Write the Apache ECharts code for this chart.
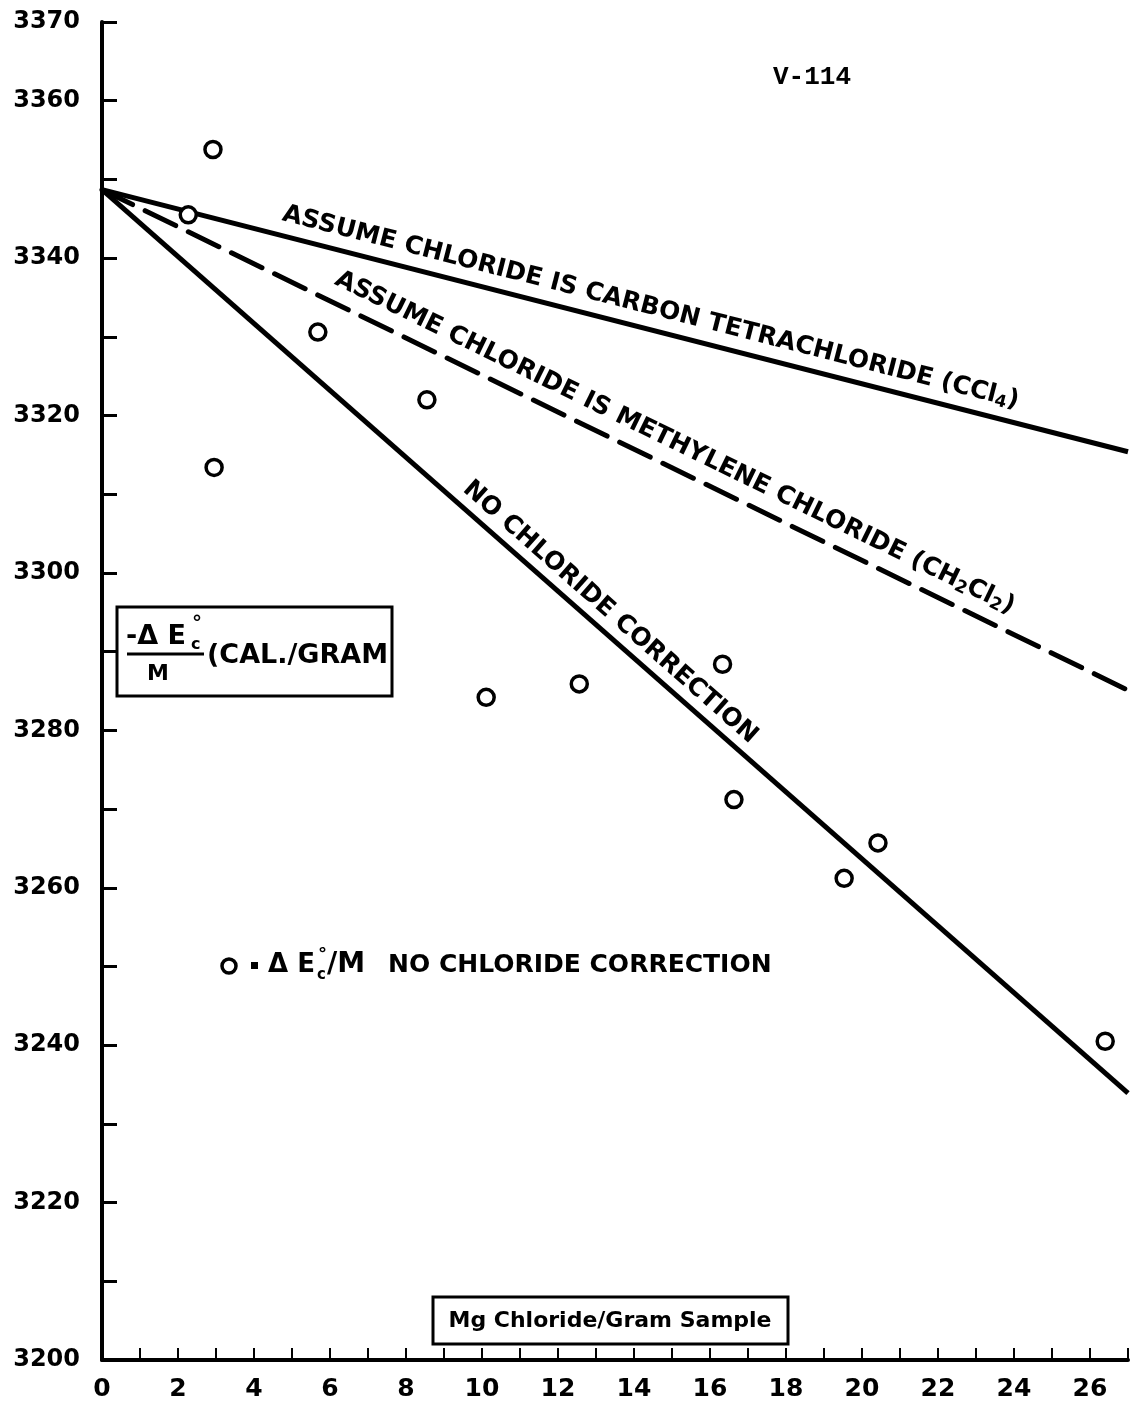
<!DOCTYPE html>
<html>
<head>
<meta charset="utf-8">
<script src="https://cdn.jsdelivr.net/npm/echarts@6/dist/echarts.min.js"></script>
<style>
html, body { margin: 0; padding: 0; background: #fff; }
#main { width: 1131px; height: 1404px; }
</style>
</head>
<body>
<div id="main"></div>
<script>
// measured points (circles): Mg chloride per gram sample vs -dEc/M
var pointX = [2.92, 2.27, 5.68, 8.55, 2.95, 10.11, 12.56, 16.33, 16.63, 20.42, 19.53, 26.40];
var pointY = [3353.8, 3345.5, 3330.6, 3322.0, 3313.4, 3284.2, 3285.9, 3288.4, 3271.2, 3265.7, 3261.2, 3240.5];

// the three straight lines, given at x = 0 and x = 27
var lineX = [0, 27];
var ccl4Y = [3348.7, 3315.4];
var ch2cl2Y = [3348.7, 3285.1];
var noCorrY = [3348.7, 3233.9];

// tick labels
var yLabelValues = [3200, 3220, 3240, 3260, 3280, 3300, 3320, 3340, 3360, 3370];
var xLabelValues = [0, 2, 4, 6, 8, 10, 12, 14, 16, 18, 20, 22, 24, 26];

var FONT = 'DejaVu Sans';

function pairs(xs, ys) {
    var out = [];
    for (var i = 0; i < xs.length; i++) out.push([xs[i], ys[i]]);
    return out;
}

var dom = document.getElementById('main');
var myChart = echarts.init(dom);

var option = {
    backgroundColor: '#fff',
    animation: false,
    grid: { left: 102, right: 0, top: 22, bottom: 44 },
    xAxis: {
        type: 'value',
        min: 0,
        max: 27,
        interval: 1,
        splitLine: { show: false },
        axisLine: { lineStyle: { color: '#000', width: 4 } },
        axisTick: { inside: true, length: 12, lineStyle: { color: '#000', width: 2 } },
        axisLabel: {
            margin: 17,
            color: '#000',
            fontFamily: FONT,
            fontWeight: 'bold',
            fontSize: 25,
            formatter: function (v) { return xLabelValues.indexOf(v) >= 0 ? String(v) : ''; }
        }
    },
    yAxis: {
        type: 'value',
        min: 3200,
        max: 3370,
        interval: 10,
        splitLine: { show: false },
        axisLine: { lineStyle: { color: '#000', width: 4 } },
        axisTick: { inside: true, length: 15, lineStyle: { color: '#000', width: 3 } },
        axisLabel: {
            margin: 22,
            color: '#000',
            fontFamily: FONT,
            fontWeight: 'bold',
            fontSize: 24,
            showMaxLabel: true,
            formatter: function (v) { return yLabelValues.indexOf(v) >= 0 ? String(v) : ''; }
        }
    },
    series: [
        {
            name: 'CCl4',
            type: 'line',
            data: pairs(lineX, ccl4Y),
            symbol: 'none',
            lineStyle: { color: '#000', width: 5 },
            z: 2
        },
        {
            name: 'CH2Cl2',
            type: 'line',
            data: pairs(lineX, ch2cl2Y),
            symbol: 'none',
            lineStyle: { color: '#000', width: 5, type: [34, 14], cap: 'round' },
            z: 2
        },
        {
            name: 'No correction',
            type: 'line',
            data: pairs(lineX, noCorrY),
            symbol: 'none',
            lineStyle: { color: '#000', width: 5 },
            z: 2
        },
        {
            name: 'points',
            type: 'scatter',
            data: pairs(pointX, pointY),
            symbol: 'circle',
            symbolSize: 16,
            itemStyle: { color: '#fff', borderColor: '#000', borderWidth: 3.5, opacity: 1 },
            z: 5
        }
    ]
};
myChart.setOption(option, true);

// text along a line, positioned from data coordinates
function lineLabel(ys, atX, gap, text, rich) {
    var p0 = myChart.convertToPixel({ gridIndex: 0 }, [lineX[0], ys[0]]);
    var p1 = myChart.convertToPixel({ gridIndex: 0 }, [lineX[1], ys[1]]);
    var ang = Math.atan2(p1[1] - p0[1], p1[0] - p0[0]);
    var yAt = ys[0] + (ys[1] - ys[0]) * (atX - lineX[0]) / (lineX[1] - lineX[0]);
    var p = myChart.convertToPixel({ gridIndex: 0 }, [atX, yAt]);
    return {
        type: 'text',
        x: p[0],
        y: p[1],
        rotation: -ang,
        z: 10,
        style: {
            text: text,
            x: 0,
            y: -gap,
            align: 'center',
            verticalAlign: 'bottom',
            fill: '#000',
            fontFamily: FONT,
            fontWeight: 'bold',
            fontSize: 25,
            rich: rich || {}
        }
    };
}

var subRich = {
    sub: { fontFamily: FONT, fontWeight: 'bold', fontSize: 17, padding: [10, 0, 0, 0], fill: '#000' }
};

var boldText = function (x, y, t, size, extra) {
    var s = {
        text: t, x: x, y: y, fill: '#000', fontFamily: FONT, fontWeight: 'bold',
        fontSize: size, align: 'left', verticalAlign: 'middle'
    };
    for (var k in extra) s[k] = extra[k];
    return { type: 'text', z: 12, style: s };
};

var graphics = [
    lineLabel(ccl4Y, 14.3, 8, 'ASSUME CHLORIDE IS CARBON TETRACHLORIDE (CCl{sub|4})', subRich),
    lineLabel(ch2cl2Y, 14.8, 10, 'ASSUME CHLORIDE IS METHYLENE CHLORIDE (CH{sub|2}Cl{sub|2})', subRich),
    lineLabel(noCorrY, 13.05, 6, 'NO CHLORIDE CORRECTION'),

    // document number
    boldText(812, 77, 'V-114', 26, { fontFamily: 'Liberation Mono', align: 'center' }),

    // y-axis name box
    { type: 'rect', z: 11, shape: { x: 117, y: 607, width: 275, height: 89 },
      style: { fill: '#fff', stroke: '#000', lineWidth: 3 } },
    boldText(126, 637, '-Δ E', 27),
    boldText(192, 624, '°', 20),
    boldText(191, 645, 'c', 16),
    { type: 'line', z: 12, shape: { x1: 127, y1: 654, x2: 204, y2: 654 },
      style: { stroke: '#000', lineWidth: 3 } },
    boldText(158, 674, 'M', 22, { align: 'center' }),
    boldText(207, 656, '(CAL./GRAM', 27),

    // legend line
    { type: 'circle', z: 12, shape: { cx: 229, cy: 966, r: 7 },
      style: { fill: '#fff', stroke: '#000', lineWidth: 3.5 } },
    { type: 'rect', z: 12, shape: { x: 251, y: 962, width: 7, height: 7 }, style: { fill: '#000' } },
    boldText(268, 965, 'Δ E', 26),
    boldText(318, 955, '°', 18),
    boldText(317, 975, 'c', 15),
    boldText(327, 965, '/M', 28),
    boldText(388, 965, 'NO CHLORIDE CORRECTION', 25),

    // x-axis name box
    { type: 'rect', z: 11, shape: { x: 433, y: 1297, width: 355, height: 47 },
      style: { fill: '#fff', stroke: '#000', lineWidth: 3 } },
    boldText(610, 1321, 'Mg Chloride/Gram Sample', 22, { align: 'center' })
];

myChart.setOption({ graphic: graphics });
</script>
</body>
</html>
